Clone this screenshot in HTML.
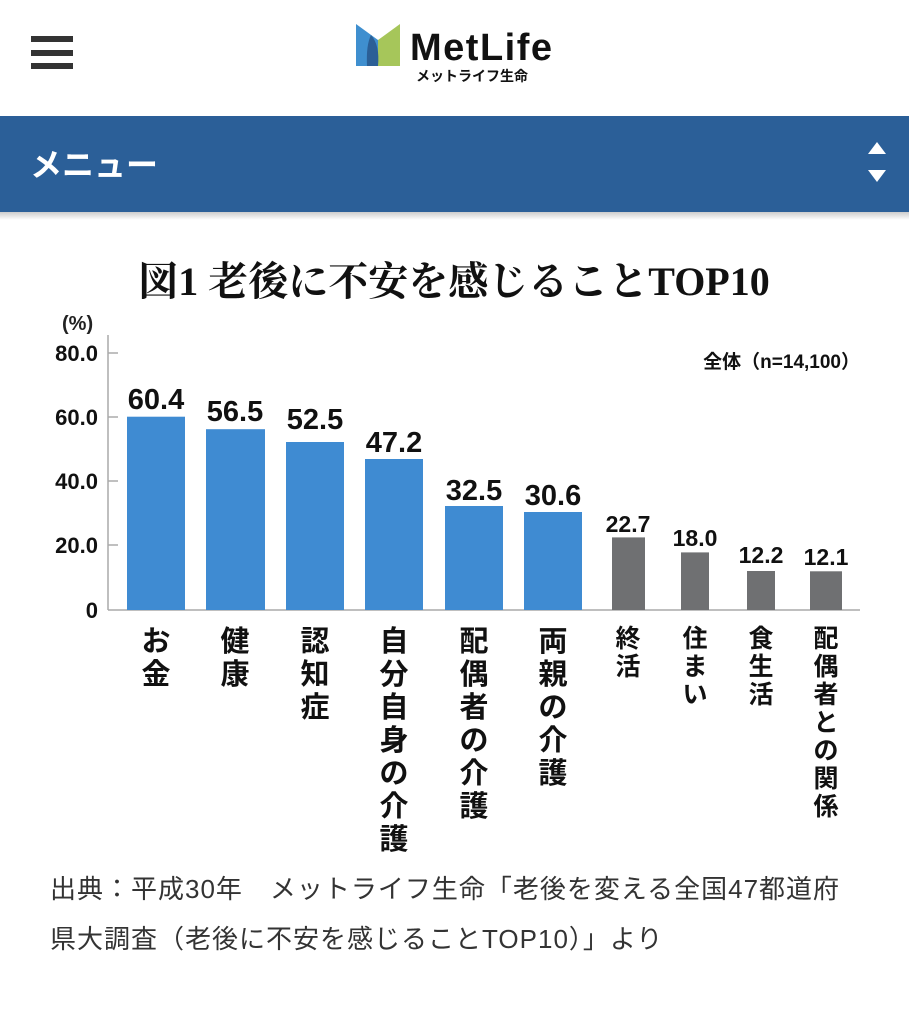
<!DOCTYPE html>
<html><head><meta charset="utf-8"><style>
html,body{margin:0;padding:0;background:#fff;width:909px;height:1024px;overflow:hidden;font-family:"Liberation Sans","Noto Sans CJK JP",sans-serif}
</style></head><body>
<svg width="909" height="1024" xmlns="http://www.w3.org/2000/svg" style="position:absolute;left:0;top:0">
<defs><linearGradient id="sh" x1="0" y1="0" x2="0" y2="1"><stop offset="0" stop-color="#ccc"/><stop offset="1" stop-color="#fff"/></linearGradient></defs>
<rect x="31" y="36" width="42" height="6" fill="#333"/>
<rect x="31" y="50" width="42" height="6" fill="#333"/>
<rect x="31" y="63" width="42" height="6" fill="#333"/>
<path d="M356 24 L378 40 L378 66 L356 66 Z" fill="#3f8fcf"/>
<path d="M400 24 L378 40 L378 66 L400 66 Z" fill="#a6c65a"/>
<path d="M371 35 Q380 45 378 66 L367 66 Q366 45 371 35 Z" fill="#2b5f96"/>
<text x="410" y="60" font-size="38" font-weight="bold" fill="#111" textLength="142">MetLife</text>
<text x="416" y="81" font-size="14" font-weight="bold" fill="#111">メットライフ生命</text>
<rect x="0" y="116" width="909" height="96" fill="#2b5f98"/>
<rect x="0" y="212" width="909" height="8" fill="url(#sh)"/>
<text x="30" y="176" font-size="32" font-weight="bold" fill="#fff">メニュー</text>
<path d="M868 154 L886 154 L877 142 Z M868 170 L886 170 L877 182 Z" fill="#fff"/>
<text x="454" y="295" text-anchor="middle" font-size="40" font-weight="bold" fill="#111" font-family="Liberation Serif,Noto Serif CJK SC,serif">図1 老後に不安を感じることTOP10</text>
<text x="62" y="330" font-size="20" font-weight="bold" fill="#222">(%)</text>
<text x="860" y="368" text-anchor="end" font-size="19" font-weight="bold" fill="#111">全体（n=14,100）</text>
<g font-size="22" font-weight="bold" fill="#111" text-anchor="end">
<text x="98" y="361">80.0</text><text x="98" y="425">60.0</text><text x="98" y="489">40.0</text><text x="98" y="553">20.0</text><text x="98" y="618">0</text>
</g>
<g stroke="#aaa" stroke-width="1.5">
<line x1="108" y1="335" x2="108" y2="610"/>
<line x1="108" y1="610" x2="860" y2="610"/>
<line x1="108" y1="353" x2="118" y2="353"/><line x1="108" y1="417" x2="118" y2="417"/><line x1="108" y1="481" x2="118" y2="481"/><line x1="108" y1="545" x2="118" y2="545"/>
</g>
<g fill="#3f8bd2">
<rect x="127" y="416.7" width="58" height="193.3"/>
<rect x="206" y="429.2" width="59" height="180.8"/>
<rect x="286" y="442" width="58" height="168"/>
<rect x="365" y="459" width="58" height="151"/>
<rect x="445" y="506" width="58" height="104"/>
<rect x="524" y="512" width="58" height="98"/>
</g>
<g fill="#6f7072">
<rect x="612" y="537.4" width="33" height="72.6"/>
<rect x="681" y="552.4" width="28" height="57.6"/>
<rect x="747" y="571" width="28" height="39"/>
<rect x="810" y="571.3" width="32" height="38.7"/>
</g>
<g font-size="29" font-weight="bold" fill="#111" text-anchor="middle">
<text x="156" y="409">60.4</text><text x="235" y="421">56.5</text><text x="315" y="429">52.5</text><text x="394" y="452">47.2</text><text x="474" y="500">32.5</text><text x="553" y="505">30.6</text>
</g>
<g font-size="23" font-weight="bold" fill="#111" text-anchor="middle">
<text x="628" y="532">22.7</text><text x="695" y="546">18.0</text><text x="761" y="563">12.2</text><text x="826" y="565">12.1</text>
</g>
<g font-size="29" font-weight="bold" fill="#111" text-anchor="middle">
<text x="156" y="651">お</text><text x="156" y="684">金</text>
<text x="235" y="651">健</text><text x="235" y="684">康</text>
<text x="315" y="651">認</text><text x="315" y="684">知</text><text x="315" y="717">症</text>
<text x="394" y="651">自</text><text x="394" y="684">分</text><text x="394" y="717">自</text><text x="394" y="750">身</text><text x="394" y="783">の</text><text x="394" y="816">介</text><text x="394" y="849">護</text>
<text x="474" y="651">配</text><text x="474" y="684">偶</text><text x="474" y="717">者</text><text x="474" y="750">の</text><text x="474" y="783">介</text><text x="474" y="816">護</text>
<text x="553" y="651">両</text><text x="553" y="684">親</text><text x="553" y="717">の</text><text x="553" y="750">介</text><text x="553" y="783">護</text>
</g>
<g font-size="25" font-weight="bold" fill="#111" text-anchor="middle">
<text x="628" y="647">終</text><text x="628" y="675">活</text>
<text x="695" y="647">住</text><text x="695" y="675">ま</text><text x="695" y="703">い</text>
<text x="761" y="647">食</text><text x="761" y="675">生</text><text x="761" y="703">活</text>
<text x="826" y="647">配</text><text x="826" y="675">偶</text><text x="826" y="703">者</text><text x="826" y="731">と</text><text x="826" y="759">の</text><text x="826" y="787">関</text><text x="826" y="815">係</text>
</g>
<text x="50" y="898" font-size="26" letter-spacing="1" fill="#333">出典：平成30年　メットライフ生命「老後を変える全国47都道府</text>
<text x="50" y="948" font-size="26" letter-spacing="1" fill="#333">県大調査（老後に不安を感じることTOP10）」より</text>
</svg>
</body></html>
